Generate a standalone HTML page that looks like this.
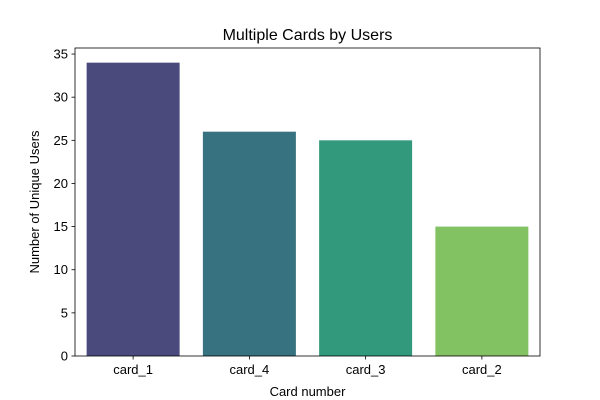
<!DOCTYPE html>
<html><head><meta charset="utf-8"><style>body{margin:0;background:#fff}svg{display:block;font-family:"Liberation Sans","DejaVu Sans",sans-serif}</style></head>
<body>
<svg id="chart" width="600" height="400" viewBox="0 0 600 400"></svg>
<script>
const categories = ["card_1","card_4","card_3","card_2"];
const values = [34, 26, 25, 15];
const colors = ["#4a4b7c","#36727f","#33997c","#82c262"];
const yTicks = [0,5,10,15,20,25,30,35];
const NS="http://www.w3.org/2000/svg";
const svg=document.getElementById('chart');
const L=75,R=540,T=48,B=356,yMax=35.7;
const x=i=>L+(i+0.5)*(R-L)/categories.length;
const y=v=>B-v/yMax*(B-T);
const bw=0.8*(R-L)/categories.length;
function mk(tag,attrs,parent){const e=document.createElementNS(NS,tag);for(const k in attrs)e.setAttribute(k,attrs[k]);(parent||svg).appendChild(e);return e;}
values.forEach((v,i)=>{
  const r=mk('rect',{x:x(i)-bw/2,y:y(v),width:bw,height:B-y(v),fill:colors[i]});
  
  
});
const ax=mk('rect',{x:L,y:T,width:R-L,height:B-T,fill:'none',stroke:'#000','stroke-width':0.8});


categories.forEach((c,i)=>{
  mk('line',{x1:x(i),x2:x(i),y1:B,y2:B+3.5,stroke:'#000','stroke-width':0.8});
  const t=mk('text',{x:x(i),y:B+18,'text-anchor':'middle','font-size':13});
  t.textContent=c;
  
  
});
yTicks.forEach(v=>{
  mk('line',{x1:L-3.5,x2:L,y1:y(v),y2:y(v),stroke:'#000','stroke-width':0.8});
  const t=mk('text',{x:L-7,y:y(v)+4.5,'text-anchor':'end','font-size':13});
  t.textContent=v;
  
  
});
const title=mk('text',{x:(L+R)/2,y:40,'text-anchor':'middle','font-size':16});
title.textContent='Multiple Cards by Users';


const xt=mk('text',{x:(L+R)/2,y:396,'text-anchor':'middle','font-size':13});
xt.textContent='Card number';


const yt=mk('text',{x:0,y:0,'text-anchor':'middle','font-size':13,transform:`translate(39,${(T+B)/2}) rotate(-90)`});
yt.textContent='Number of Unique Users';


</script>
</body></html>
